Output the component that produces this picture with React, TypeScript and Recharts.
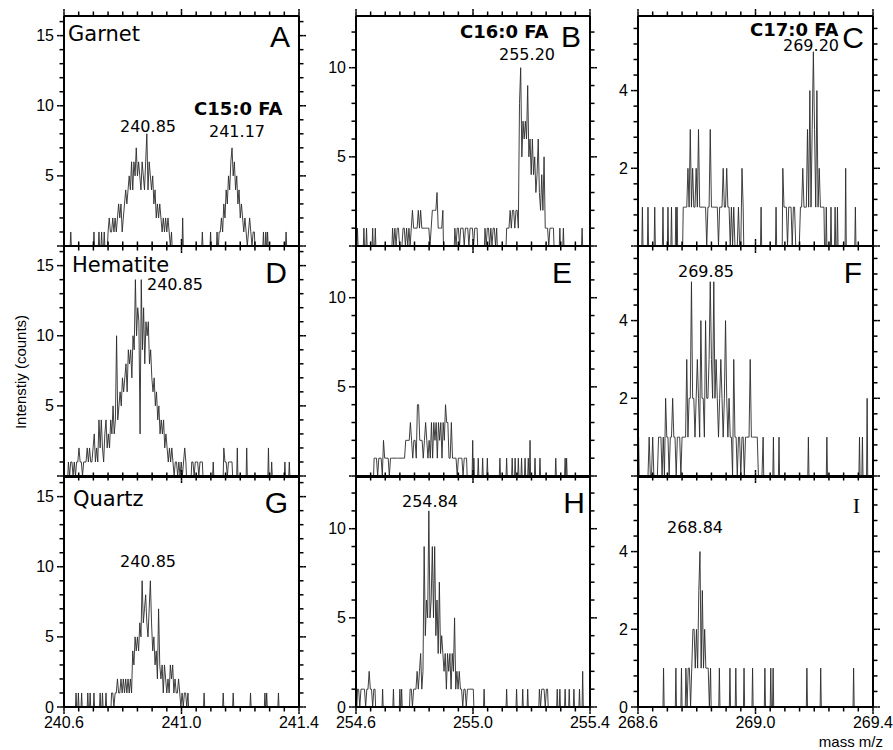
import React from 'react';
import { LineChart, Line, XAxis, YAxis } from 'recharts';

// spectra are stored as runs of counts in 0.004 m/z bins: [first m/z, counts...]
const STEP = 0.004;
type Run = [number, number[]];

// C15:0 window
const garnetC15: Run[] = [
  [240.623, [1]], [240.702, [1]], [240.719, [1]], [240.728, [1]], [240.737, [1]],
  [240.75, [1, 2, 1, 1, 2, 1, 2, 1, 2, 3, 2, 3, 1, 2, 3, 4, 3, 4, 5, 4, 6, 4, 6, 5, 7, 5, 6, 5, 4, 6, 5, 4, 6, 8, 4, 6, 5, 4, 5, 3, 4, 2, 3, 2, 3, 2, 1, 2, 1, 2, 1, 2, 1, 0, 1]],
  [241.004, [2]], [241.071, [1]], [241.099, [1]], [241.121, [1]],
  [241.128, [1, 1, 2, 1, 3, 2, 4, 3, 5, 4, 6, 7, 5, 6, 4, 5, 3, 4, 2, 3, 2, 1, 2, 1, 0, 1, 2, 1, 0, 1, 1]],
  [241.279, [1]], [241.287, [1]], [241.293, [1]], [241.356, [1]],
];
const hematiteC15: Run[] = [
  [240.615, [1, 0, 1, 1, 0, 1, 0, 1, 1, 2, 1, 1, 0, 1, 1, 1, 2, 1, 2, 1, 1, 2, 3, 1, 2, 1, 4, 2, 4, 2, 1, 3, 4, 2, 3, 2, 4, 3, 5, 3, 4, 10, 4, 5, 6, 5, 7, 6, 7, 8, 6, 9, 8, 9, 7, 10, 9, 14, 10, 12, 11, 3, 14, 9, 12, 8, 11, 10, 11, 8, 9, 7, 6, 7, 5, 6, 4, 5, 3, 4, 3, 4, 2, 3, 2, 1, 2, 1, 2, 1, 0, 1, 1, 0, 1, 0, 1, 0, 1, 2, 1]],
  [241.035, [1, 1, 0, 1, 1, 1, 0, 1, 1, 1]],
  [241.108, [1]],
  [241.144, [2, 1, 1, 0, 1, 1, 1, 1]],
  [241.19, [2]], [241.222, [2]], [241.296, [2]], [241.307, [1]], [241.352, [1]], [241.367, [1]],
];
const quartzC15: Run[] = [
  [240.641, [1]], [240.649, [1]], [240.66, [1]], [240.681, [1]], [240.689, [1]], [240.702, [1]], [240.723, [1]], [240.731, [1]], [240.743, [1]],
  [240.762, [1, 1, 0, 1, 1, 2, 1, 1, 2, 1, 2, 1, 2, 1, 2, 1, 2, 1, 4, 3, 5, 4, 5, 4, 6, 5, 9, 6, 7, 8, 6, 5, 7, 9, 6, 4, 5, 3, 4, 2, 7, 3, 2, 3, 1, 3, 2, 1, 2, 1, 3, 2, 3, 1, 2, 1, 1, 2, 1, 0, 1, 0, 1, 1, 0, 1]],
  [241.077, [1]], [241.142, [1]], [241.176, [1]], [241.235, [1]], [241.284, [1]], [241.29, [1]], [241.33, [1]],
];

// C16:0 window
const garnetC16: Run[] = [
  [254.605, [1]], [254.627, [1]], [254.636, [1]], [254.657, [1]], [254.666, [1]],
  [254.725, [1, 0, 1, 0, 1, 1, 0, 0, 0, 1, 1, 0, 1, 0, 1, 0, 1, 2, 1, 1, 1, 1, 2, 1, 2, 1, 1, 1, 1, 1, 1, 1, 0, 1, 2, 2, 2, 2, 3, 1, 1, 1, 1, 2]],
  [254.938, [1, 0, 1, 1, 0, 1, 1, 1, 0, 1, 1, 1, 0, 1, 1, 1, 0, 1, 1, 1]],
  [255.041, [1, 0, 1, 1, 0, 1, 0, 1, 1, 0, 1]],
  [255.115, [1, 1, 1, 2, 1, 2, 2, 1, 2, 2, 1, 8, 10, 5, 7, 6, 7, 6, 9, 5, 6, 4, 6, 4, 5, 3, 4, 6, 3, 2, 4, 2, 5, 1, 1, 1, 0, 1, 1, 1, 1]],
  [255.297, [1]], [255.309, [1]], [255.373, [1]],
];
const hematiteC16: Run[] = [
  [254.662, [1, 1, 1, 0, 1, 1, 1, 0, 2, 1, 1, 1, 1, 0, 1, 1, 1, 1, 1, 1, 1, 1, 1, 1, 1, 1, 1, 2, 2, 2, 2, 3, 2, 1, 2, 2, 1, 4, 4, 2, 2, 2, 1, 2, 3, 2, 1, 2, 1, 3, 1, 3, 2, 3, 1, 3, 2, 3, 1, 3, 2, 4, 3, 3, 1, 1, 3, 1, 1, 1, 1, 0, 1, 1, 1, 1, 0, 1, 1, 1]],
  [254.999, [2]], [255.003, [1]], [255.018, [1]], [255.033, [1]], [255.049, [1]], [255.092, [1]], [255.115, [1]], [255.134, [1]],
  [255.144, [1]], [255.155, [1]], [255.166, [1]], [255.178, [1]], [255.189, [1]], [255.195, [2]], [255.212, [1]], [255.229, [1]],
  [255.283, [1]], [255.315, [1]], [255.32, [1]],
];
const quartzC16: Run[] = [
  [254.605, [1, 1, 0, 1, 1, 1, 1, 0, 1, 1, 2, 1, 1, 0, 1, 1]],
  [254.691, [1]], [254.728, [1]], [254.75, [1]], [254.756, [1]],
  [254.785, [1, 1, 0, 1, 1, 1, 2, 1, 2, 3, 1, 2, 9, 4, 6, 5, 11, 5, 6, 9, 5, 9, 4, 6, 3, 7, 3, 4, 3, 2, 3, 1, 3, 2, 3, 1, 3, 2, 5, 1, 2, 1, 2, 1, 1, 0, 1, 1, 0, 1, 1, 1, 1, 1, 1]],
  [255.038, [1]], [255.115, [1]], [255.149, [1]], [255.17, [1]], [255.187, [1]],
  [255.227, [1, 0, 1, 1, 1, 0, 1, 1]],
  [255.288, [1]], [255.297, [1]], [255.315, [1]], [255.329, [1]], [255.345, [1]], [255.364, [1]], [255.375, [2]],
];

// C17:0 window
const garnetC17: Run[] = [
  [268.615, [1]], [268.634, [1]], [268.657, [1]], [268.685, [1]], [268.702, [1]], [268.714, [1]], [268.729, [1]], [268.733, [1]],
  [268.754, [1, 1, 1, 1, 2, 1, 3, 1, 2, 1, 1, 2, 1, 3, 1, 1, 1, 1, 1, 1, 0, 1, 1, 3, 1, 1, 1, 1, 1, 1, 0, 1, 1, 1, 2, 1, 1, 2, 1, 1, 0, 1, 0, 1, 0, 0, 0, 1, 0, 0, 2, 1]],
  [269.019, [1]], [269.07, [1]],
  [269.093, [2, 1, 1, 1, 0, 1, 1, 1, 0, 1, 1, 0, 0, 0, 0, 1, 1, 2, 1, 1, 1, 3, 1, 4, 1, 3, 5, 3, 1, 4, 1, 2, 1, 1, 1, 1]],
  [269.241, [1]], [269.257, [1]], [269.271, [1]], [269.279, [1]], [269.307, [2]], [269.34, [1]],
];
const hematiteC17: Run[] = [
  [268.602, [1]],
  [268.634, [0, 1, 0, 0, 1, 0, 0, 0, 0, 1, 1, 1, 0, 1, 0, 2, 1, 1, 0, 1, 1, 2, 1, 1, 0, 1, 1, 1, 0, 1, 1, 1, 1, 3, 1, 2, 2, 5, 2, 2, 1, 2, 3, 2, 1, 4, 2, 2, 1, 4, 2, 2, 3, 5, 3, 2, 5, 2, 3, 2, 1, 2, 3, 2, 1, 2, 4, 2, 1, 2, 1, 1, 0, 3, 1, 1, 0, 1, 1, 0, 1, 1, 0, 1, 1, 1, 1, 3, 1, 1, 1, 1, 1, 1, 0, 0, 0, 0, 1]],
  [269.061, [1]], [269.08, [1]], [269.18, [1]], [269.243, [1]], [269.354, [1]], [269.364, [1]], [269.38, [2]],
];
const quartzC17: Run[] = [
  [268.687, [1]], [268.729, [1]], [268.748, [1]],
  [268.763, [1, 0, 1, 1, 0, 1, 2, 2, 1, 2, 1, 3, 4, 1, 3, 1, 2, 1, 1, 1, 0, 1]],
  [268.877, [1]], [268.913, [1]], [268.933, [1]], [268.961, [1]], [268.99, [1]], [269.032, [1]],
  [269.052, [1]], [269.06, [1]], [269.175, [1]], [269.222, [1]], [269.334, [1]],
];

const xMajorTicks = [
  [240.6, 241.0, 241.4],
  [254.6, 255.0, 255.4],
  [268.6, 269.0, 269.4],
];
const yMajorTicks = [[0, 5, 10, 15], [0, 5, 10], [0, 2, 4]];
const yMinorStep = [1, 1, 0.4];
const yTop = [16.4, 12.9, 5.92];

const grid: Run[][][] = [
  [garnetC15, garnetC16, garnetC17],
  [hematiteC15, hematiteC16, hematiteC17],
  [quartzC15, quartzC16, quartzC17],
];

const COLS = [
  { left: 64, width: 235 },
  { left: 356, width: 234 },
  { left: 638, width: 235 },
];
const ROW_TOPS = [16, 246.3, 476.6];
const ROW_H = 230;
// axes need a non-zero box to be drawn; 1px each
const AX = 1;
const M = { top: 20, right: 25, bottom: 40, left: 50 };
// minor tick length (drawn by recharts), majors get a short extension
const TICK = 4.5;
const MAJOR_EXTRA = 2.5;

const SANS = 'Liberation Sans, Arial, sans-serif';
const DEJAVU = 'DejaVu Sans, Verdana, sans-serif';

const toSeries = (runs: Run[]) => {
  const pts: { m: number; v: number }[] = [];
  runs.forEach(([start, counts]) => {
    pts.push({ m: start - STEP / 2, v: 0 });
    counts.forEach((c, k) => pts.push({ m: start + k * STEP, v: c }));
    pts.push({ m: start + (counts.length - 1) * STEP + STEP / 2, v: 0 });
  });
  return pts.sort((a, b) => a.m - b.m);
};

const SERIES = grid.map((row) => row.map(toSeries));
const X_TICKS = xMajorTicks.map((m) => Array.from({ length: 17 }, (_, i) => Number((m[0] + 0.05 * i).toFixed(2))));
const Y_TICKS = yTop.map((top, c) => {
  const n = Math.floor(top / yMinorStep[c] + 1e-6);
  return Array.from({ length: n + 1 }, (_, i) => Number((i * yMinorStep[c]).toFixed(1)));
});

const near = (v: number, list: number[]) => list.some((t) => Math.abs(t - v) < 1e-6);

// (x, y) arrive at the outer end of the recharts tick line
const makeXTick = (side: 'top' | 'bottom', majors: number[], labels: boolean) => (props: any) => {
  const { x, y, payload } = props;
  const major = near(payload.value, majors);
  const dir = side === 'bottom' ? 1 : -1;
  return (
    <g>
      {major && <line x1={x} x2={x} y1={y} y2={y + dir * MAJOR_EXTRA} stroke="#000" strokeWidth={1.5} />}
      {labels && major && (
        <text x={x} y={y + 21 - TICK} textAnchor="middle" fontSize={16} fontFamily={SANS} fill="#000">
          {payload.value.toFixed(1)}
        </text>
      )}
    </g>
  );
};

const makeYTick = (side: 'left' | 'right', majors: number[], showZero: boolean) => (props: any) => {
  const { x, y, payload } = props;
  const major = near(payload.value, majors);
  const dir = side === 'left' ? -1 : 1;
  const label = side === 'left' && major && (payload.value !== 0 || showZero);
  return (
    <g>
      {major && <line x1={x} x2={x + dir * MAJOR_EXTRA} y1={y} y2={y} stroke="#000" strokeWidth={1.5} />}
      {label && (
        <text x={x - 10 + TICK} y={y} dy="0.35em" textAnchor="end" fontSize={16} fontFamily={SANS} fill="#000">
          {Math.round(payload.value)}
        </text>
      )}
    </g>
  );
};

const axisLine = { stroke: '#000', strokeWidth: 2 };
const tickLine = { stroke: '#000', strokeWidth: 1.5 };

const Panel = ({ row, col }: { row: number; col: number }) => {
  const c = COLS[col];
  const lo = xMajorTicks[col][0];
  const hi = xMajorTicks[col][2];
  const last = row === 2;
  return (
    <div style={{ position: 'absolute', left: c.left - M.left - AX, top: ROW_TOPS[row] - M.top - AX }}>
      <LineChart
        width={c.width + M.left + M.right + 2 * AX}
        height={ROW_H + M.top + M.bottom + 2 * AX}
        data={SERIES[row][col]}
        margin={M}
      >
        <XAxis
          xAxisId="b"
          type="number"
          dataKey="m"
          domain={[lo, hi]}
          allowDataOverflow
          ticks={X_TICKS[col]}
          interval={0}
          height={AX}
          tickSize={TICK}
          tickMargin={0}
          tickLine={tickLine}
          axisLine={axisLine}
          tick={makeXTick('bottom', xMajorTicks[col], last)}
        />
        <XAxis
          xAxisId="t"
          orientation="top"
          type="number"
          dataKey="m"
          domain={[lo, hi]}
          allowDataOverflow
          ticks={X_TICKS[col]}
          interval={0}
          height={AX}
          tickSize={TICK}
          tickMargin={0}
          tickLine={tickLine}
          axisLine={axisLine}
          tick={makeXTick('top', xMajorTicks[col], false)}
        />
        <YAxis
          yAxisId="l"
          type="number"
          domain={[0, yTop[col]]}
          allowDataOverflow
          ticks={Y_TICKS[col]}
          interval={0}
          width={AX}
          tickSize={TICK}
          tickMargin={0}
          tickLine={tickLine}
          axisLine={axisLine}
          tick={makeYTick('left', yMajorTicks[col], last)}
        />
        <YAxis
          yAxisId="r"
          orientation="right"
          type="number"
          domain={[0, yTop[col]]}
          allowDataOverflow
          ticks={Y_TICKS[col]}
          interval={0}
          width={AX}
          tickSize={TICK}
          tickMargin={0}
          tickLine={tickLine}
          axisLine={axisLine}
          tick={makeYTick('right', yMajorTicks[col], false)}
        />
        <Line
          xAxisId="b"
          yAxisId="l"
          dataKey="v"
          type="linear"
          stroke="#2a2a2a"
          strokeWidth={0.9}
          dot={false}
          activeDot={false}
          isAnimationActive={false}
        />
        <Line
          xAxisId="t"
          yAxisId="r"
          dataKey="v"
          stroke="none"
          dot={false}
          activeDot={false}
          isAnimationActive={false}
        />
      </LineChart>
    </div>
  );
};

type Note = { x: number; y: number; text: string; size?: number; bold?: boolean; font?: string; anchor?: 'start' | 'end' };

const notes: Note[] = [
  { x: 68, y: 41, text: 'Garnet', size: 21 },
  { x: 290, y: 46.5, text: 'A', size: 30, font: SANS, anchor: 'end' },
  { x: 194, y: 115, text: 'C15:0 FA', size: 18, bold: true },
  { x: 209, y: 137, text: '241.17' },
  { x: 120, y: 132, text: '240.85' },
  { x: 460, y: 38, text: 'C16:0 FA', size: 18, bold: true },
  { x: 581, y: 46.5, text: 'B', size: 30, font: SANS, anchor: 'end' },
  { x: 499, y: 60, text: '255.20' },
  { x: 750, y: 36, text: 'C17:0 FA', size: 18, bold: true },
  { x: 864, y: 48, text: 'C', size: 30, font: SANS, anchor: 'end' },
  { x: 783, y: 51, text: '269.20' },
  { x: 72, y: 272, text: 'Hematite', size: 21 },
  { x: 287, y: 282.5, text: 'D', size: 30, font: SANS, anchor: 'end' },
  { x: 147, y: 290, text: '240.85' },
  { x: 572, y: 283, text: 'E', size: 30, font: SANS, anchor: 'end' },
  { x: 862, y: 283, text: 'F', size: 30, font: SANS, anchor: 'end' },
  { x: 678, y: 277, text: '269.85' },
  { x: 73, y: 505.5, text: 'Quartz', size: 21 },
  { x: 288, y: 513, text: 'G', size: 30, font: SANS, anchor: 'end' },
  { x: 120, y: 567, text: '240.85' },
  { x: 585, y: 513, text: 'H', size: 30, font: SANS, anchor: 'end' },
  { x: 402, y: 507, text: '254.84' },
  { x: 860, y: 513, text: 'I', size: 22, font: 'Liberation Serif, Times New Roman, serif', anchor: 'end' },
  { x: 667, y: 533, text: '268.84' },
];

export default function App() {
  return (
    <div style={{ position: 'absolute', left: 0, top: 0, width: 893, height: 750, overflow: 'hidden' }}>
      {grid.map((rowRuns, r) => rowRuns.map((_, c) => <Panel key={`${r}-${c}`} row={r} col={c} />))}
      <svg width={893} height={750} style={{ position: 'absolute', left: 0, top: 0, pointerEvents: 'none' }}>
        {notes.map((n, i) => (
          <text
            key={i}
            x={n.x}
            y={n.y}
            fontSize={n.size ?? 16}
            fontWeight={n.bold ? 'bold' : 'normal'}
            fontFamily={n.font ?? DEJAVU}
            textAnchor={n.anchor ?? 'start'}
            fill="#000"
          >
            {n.text}
          </text>
        ))}
        <text transform="translate(21,372) rotate(-90)" textAnchor="middle" dy="0.35em" fontSize={15} fontFamily={SANS} fill="#000">
          Intenstiy (counts)
        </text>
        <text x={883} y={747} textAnchor="end" fontSize={15} fontFamily={SANS} fill="#000">
          mass m/z
        </text>
      </svg>
    </div>
  );
}
